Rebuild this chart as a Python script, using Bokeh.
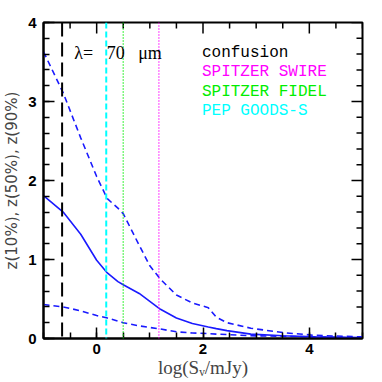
from bokeh.plotting import figure
from bokeh.models import FixedTicker, Span, Label, Range1d
from bokeh.embed import file_html
from bokeh.resources import INLINE
import numpy as np

# --- data ---
x_vals = [-1.0, -0.63, -0.3, 0.0, 0.2, 0.4, 0.5, 0.8, 1.0, 1.2, 1.5, 1.8, 2.1, 2.25, 2.45, 2.9, 3.5, 4.1, 5.0]
z90 = [3.63, 3.11, 2.54, 2.05, 1.77, 1.65, 1.58, 1.18, 0.92, 0.75, 0.55, 0.45, 0.39, 0.27, 0.20, 0.13, 0.075, 0.04, 0.02]
z50 = [1.81, 1.60, 1.32, 0.99, 0.83, 0.72, 0.68, 0.57, 0.47, 0.37, 0.26, 0.19, 0.145, 0.125, 0.10, 0.055, 0.035, 0.02, 0.01]
z10 = [0.43, 0.40, 0.35, 0.29, 0.26, 0.22, 0.20, 0.16, 0.14, 0.12, 0.085, 0.07, 0.062, 0.055, 0.05, 0.035, 0.028, 0.02, 0.01]

limit_names = ["confusion", "SPITZER SWIRE", "SPITZER FIDEL", "PEP GOODS-S"]
limit_values = [-0.65, 1.17, 0.5, 0.18]
limit_colors = ["black", "#ff00ff", "#00ee00", "#00ffff"]
limit_dash = ["14 6", "1 2", "1 2", "6 3"]

x_range = (-1, 5)
y_range = (0, 4)
x_major = [0, 2, 4]
x_minor = [-1, -0.5, 0, 0.5, 1, 1.5, 2, 2.5, 3, 3.5, 4, 4.5, 5]
y_major = [0, 1, 2, 3, 4]
y_minor = [round(0.2 * i, 1) for i in range(21)]

p = figure(width=380, height=380, output_backend="svg", toolbar_location=None,
           x_range=Range1d(*x_range), y_range=Range1d(*y_range),
           min_border_left=41, min_border_right=18, min_border_top=22, min_border_bottom=39)
p.grid.visible = False
p.outline_line_color = "black"
p.outline_line_width = 2

for i, v in enumerate(limit_values):
    p.add_layout(Span(location=v, dimension="height", line_color=limit_colors[i],
                      line_dash=limit_dash[i], line_width=2 if i in (0, 3) else 1.5))

blue = "#1a1aff"
p.line(x_vals, z90, line_color=blue, line_width=1.6, line_dash="6 4")
p.line(x_vals, z50, line_color=blue, line_width=1.6)
p.line(x_vals, z10, line_color=blue, line_width=1.6, line_dash="6 4")

def style_axis(ax, ticks, minors):
    ax.ticker = FixedTicker(ticks=ticks, minor_ticks=minors)
    ax.axis_line_width = 2
    ax.axis_line_color = "black"
    ax.major_tick_in = 11
    ax.major_tick_out = 0
    ax.minor_tick_in = 6
    ax.minor_tick_out = 0
    ax.major_tick_line_width = 1.5
    ax.minor_tick_line_width = 1.5
    ax.major_tick_line_color = "black"
    ax.minor_tick_line_color = "black"
    ax.major_label_text_font = "Liberation Sans"
    ax.major_label_text_font_size = "15px"
    ax.major_label_text_font_style = "bold"
    ax.major_label_text_color = "black"

style_axis(p.xaxis[0], x_major, x_minor)
style_axis(p.yaxis[0], y_major, y_minor)
p.xaxis[0].major_label_standoff = 5
p.yaxis[0].major_label_standoff = 7

p.xaxis[0].axis_label = "log(S\u1d65/mJy)"
p.xaxis[0].axis_label_text_font = "Liberation Serif"
p.xaxis[0].axis_label_text_font_size = "19px"
p.xaxis[0].axis_label_text_font_style = "normal"
p.xaxis[0].axis_label_standoff = 0
p.yaxis[0].axis_label = "z(10%), z(50%), z(90%)"
p.yaxis[0].axis_label_text_font = "DejaVu Sans"
p.yaxis[0].axis_label_text_font_size = "15px"
p.yaxis[0].axis_label_text_font_style = "normal"
p.yaxis[0].axis_label_standoff = 4

# mirrored ticks on the right and top edges (clipped to the frame)
y_minor_only = [v for v in y_minor if v not in y_major]
x_minor_only = [v for v in x_minor if v not in x_major]
p.scatter([x_range[1]] * len(y_major), y_major, marker="dash", size=22, line_color="black", line_width=1.5)
p.scatter([x_range[1]] * len(y_minor_only), y_minor_only, marker="dash", size=12, line_color="black", line_width=1.5)
p.scatter(x_major, [y_range[1]] * len(x_major), marker="dash", angle=np.pi / 2, size=22, line_color="black", line_width=1.5)
p.scatter(x_minor_only, [y_range[1]] * len(x_minor_only), marker="dash", angle=np.pi / 2, size=12, line_color="black", line_width=1.5)

nb = "\u00a0"
p.add_layout(Label(x=-0.42, y=3.62, text="\u03bb=" + nb * 3 + "70" + nb * 3 + "\u03bcm",
                   text_font="Liberation Serif", text_font_size="18px",
                   text_baseline="middle", text_color="black"))
label_y = [3.61, 3.37, 3.12, 2.88]
for i, name in enumerate(limit_names):
    p.add_layout(Label(x=1.98, y=label_y[i], text=name.replace(" ", nb), text_font="Liberation Mono",
                       text_font_size="16px", text_baseline="middle",
                       text_color=limit_colors[i]))

open("out.html", "w").write(file_html(p, INLINE))
